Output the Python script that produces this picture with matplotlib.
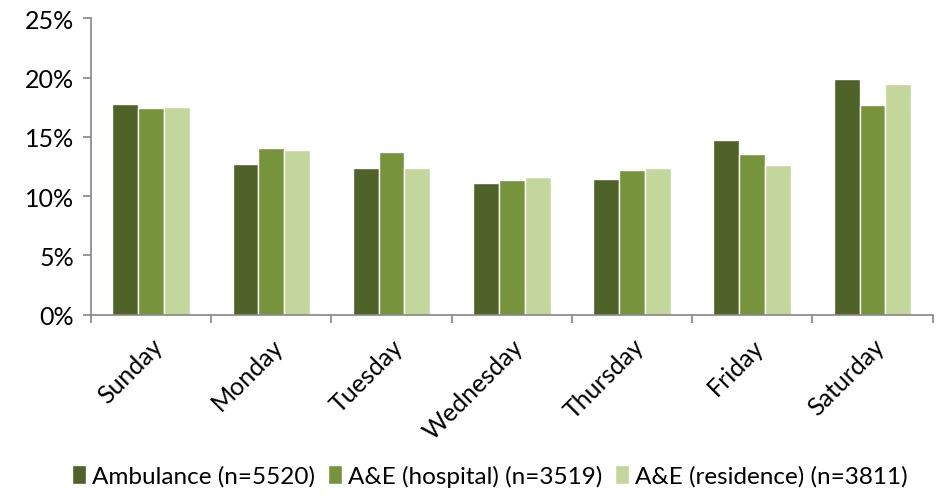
import numpy as np
import matplotlib.pyplot as plt
from matplotlib.ticker import FuncFormatter, FixedLocator

days = ['Sunday', 'Monday', 'Tuesday', 'Wednesday', 'Thursday', 'Friday', 'Saturday']
ambulance = [17.8, 12.7, 12.35, 11.15, 11.45, 14.7, 19.9]
ae_hospital = [17.4, 14.05, 13.7, 11.35, 12.2, 13.55, 17.7]
ae_residence = [17.55, 13.9, 12.35, 11.6, 12.4, 12.65, 19.45]
labels = ['Ambulance (n=5520)', 'A&E (hospital) (n=3519)', 'A&E (residence) (n=3811)']
colors = ['#4F6228', '#77933C', '#C3D69B']

plt.rcParams['font.family'] = ['Lato', 'DejaVu Sans']

fig = plt.figure(figsize=(9.42, 5.02), dpi=100)
ax = fig.add_axes([0.0966, 0.371, 0.8934, 0.5906])

x = np.arange(len(days))
w = 0.215
for i, (vals, lab, col) in enumerate(zip([ambulance, ae_hospital, ae_residence], labels, colors)):
    ax.bar(x + (i - 1) * w, vals, width=w, color=col, edgecolor='white', linewidth=1, label=lab)

ax.set_xlim(-0.5, len(days) - 0.5)
ax.set_ylim(0, 25)
ax.set_yticks([0, 5, 10, 15, 20, 25])
ax.yaxis.set_major_formatter(FuncFormatter(lambda v, p: f'{v:.0f}%'))

ax.set_xticks(x)
ax.set_xticklabels(days, rotation=45, ha='right', rotation_mode='anchor')
ax.xaxis.set_minor_locator(FixedLocator(np.arange(-0.5, len(days), 1.0)))
ax.tick_params(axis='x', which='major', length=0, pad=14, labelsize=18)
ax.tick_params(axis='x', which='minor', length=6, color='#868686', width=1.2)
ax.tick_params(axis='y', length=6, color='#868686', width=1.2, labelsize=18, pad=6)

for s in ['top', 'right']:
    ax.spines[s].set_visible(False)
for s in ['left', 'bottom']:
    ax.spines[s].set_color('#868686')
    ax.spines[s].set_linewidth(1.2)

fig.legend(loc='lower center', bbox_to_anchor=(0.52, -0.015), ncol=3, frameon=False,
           fontsize=17.5, handlelength=0.6, handleheight=0.8, handletextpad=0.25,
           columnspacing=0.5)

fig.savefig('out.png', dpi=100)
